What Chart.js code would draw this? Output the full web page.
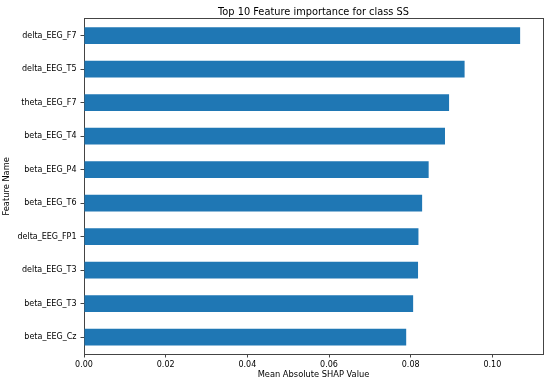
<!DOCTYPE html>
<html>
<head>
<meta charset="utf-8">
<script src="https://cdn.jsdelivr.net/npm/chart.js@4"></script>
<style>
html,body{margin:0;padding:0;background:#fff;}
#wrap{width:550px;height:385px;position:relative;}
</style>
</head>
<body>
<div id="wrap"><canvas id="c" width="550" height="385"></canvas></div>
<script>
const features = ["delta_EEG_F7","delta_EEG_T5","theta_EEG_F7","beta_EEG_T4","beta_EEG_P4","beta_EEG_T6","delta_EEG_FP1","delta_EEG_T3","beta_EEG_T3","beta_EEG_Cz"];
const shapValues = [0.1068,0.0932,0.0894,0.0884,0.0844,0.0828,0.0819,0.0818,0.0806,0.0789];
const xTicks = [0.00,0.02,0.04,0.06,0.08,0.10];
const titleText = "Top 10 Feature importance for class SS";
const xTitle = "Mean Absolute SHAP Value";
const yTitle = "Feature Name";

const FONT = "'DejaVu Sans', sans-serif";
const EDGE = '#444';
const frameAxis = (pos, size) => ({
  type: 'linear',
  position: pos,
  min: 0, max: 1,
  display: true,
  afterFit(s){ if (size === 'w') s.width = 0; else s.height = 0; },
  ticks: { display: false },
  grid: { display: false, drawTicks: false },
  border: { display: true, color: EDGE, width: 1 },
  title: { display: false }
});

new Chart(document.getElementById('c'), {
  type: 'bar',
  data: {
    labels: features,
    datasets: [{
      data: shapValues,
      backgroundColor: '#1f77b4',
      borderWidth: 0,
      barPercentage: 0.5,
      categoryPercentage: 1.0,
      xAxisID: 'x',
      yAxisID: 'y'
    }]
  },
  options: {
    indexAxis: 'y',
    responsive: false,
    animation: false,
    devicePixelRatio: 1,
    layout: { padding: { left: 2, right: 7, top: 0, bottom: 0 } },
    plugins: {
      legend: { display: false },
      tooltip: { enabled: false },
      title: {
        display: true,
        text: titleText,
        fullSize: false,
        color: '#000',
        font: { family: FONT, size: 9.8, weight: 'normal' },
        padding: { top: 7, bottom: 0 }
      }
    },
    scales: {
      x: {
        min: 0,
        max: 0.1124,
        afterBuildTicks(s){ s.ticks = xTicks.map(v => ({value: v})); },
        afterFit(s){ s.height = 31; },
        ticks: {
          color: '#000',
          font: { family: FONT, size: 8 },
          padding: 3,
          maxRotation: 0,
          callback: v => Number(v).toFixed(2)
        },
        grid: { display: true, drawOnChartArea: false, drawTicks: true, tickLength: 3.5, color: EDGE },
        border: { display: true, color: EDGE },
        title: { display: true, text: xTitle, color: '#000', font: { family: FONT, size: 8.3 }, padding: { top: 1, bottom: 5 } }
      },
      y: {
        afterFit(s){ s.width = 82; },
        ticks: {
          color: '#000',
          font: { family: FONT, size: 8 },
          padding: 4
        },
        grid: { display: true, drawOnChartArea: false, drawTicks: true, tickLength: 3.5, color: EDGE, offset: false },
        border: { display: true, color: EDGE },
        title: { display: true, text: yTitle, color: '#000', font: { family: FONT, size: 8.3 }, padding: { top: 0, bottom: 0 } }
      },
      xTop: frameAxis('top', 'h'),
      yRight: frameAxis('right', 'w')
    }
  }
});
</script>
</body>
</html>
